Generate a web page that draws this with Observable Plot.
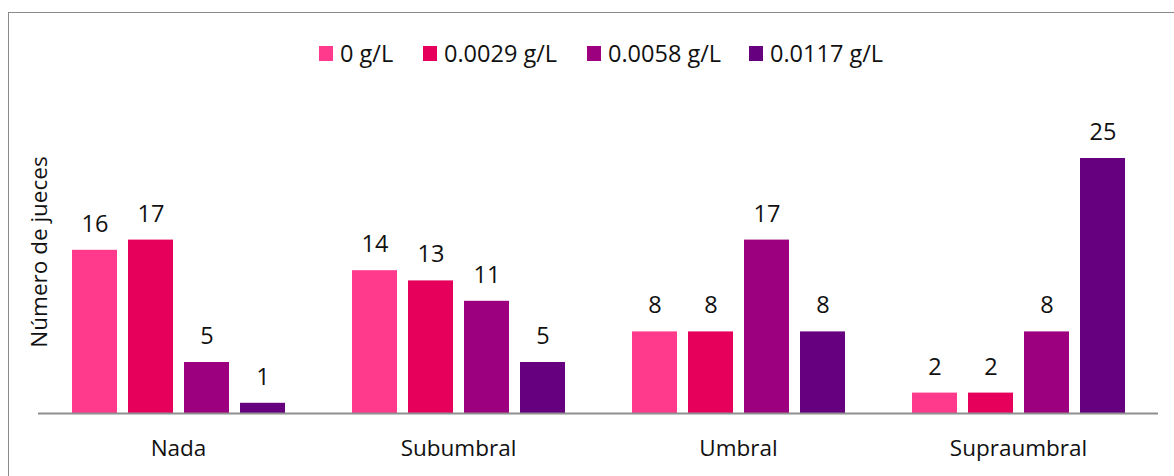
<!DOCTYPE html>
<html>
<head>
<meta charset="utf-8">
<script src="https://cdn.jsdelivr.net/npm/d3@7"></script>
<script src="https://cdn.jsdelivr.net/npm/@observablehq/plot@0.6"></script>
<style>
  body { margin: 0; background: #fff; font-family: "Open Sans", sans-serif; }
  #wrap { position: relative; width: 1174px; height: 476px; overflow: hidden; }
  #frame { position: absolute; left: 8px; top: 12px; width: 1200px; height: 500px; border: 1.5px solid #8a8a8a; box-sizing: border-box; }
  #legend { position: absolute; left: 0; top: 38px; width: 1174px; height: 30px; font-size: 23.5px; line-height: 30px; color: #111; }
  .item { position: absolute; top: 0; display: flex; align-items: center; }
  .sw { width: 14px; height: 15px; margin-right: 7px; }
  #ylab { position: absolute; left: 38px; top: 252px; transform: translate(-50%, -50%) rotate(-90deg); font-size: 22.5px; white-space: nowrap; color: #111; }
  #chart { position: absolute; left: 0; top: 0; }
</style>
</head>
<body>
<div id="wrap">
  <div id="frame"></div>
  <div id="chart"></div>
  <div id="legend"></div>
  <div id="ylab">Número de jueces</div>
</div>
<script>
const categories = ["Nada", "Subumbral", "Umbral", "Supraumbral"];
const series = ["0 g/L", "0.0029 g/L", "0.0058 g/L", "0.0117 g/L"];
const colors = ["#FF3A8C", "#E6005C", "#9C007F", "#66007F"];
const values0 = [16, 14, 8, 2];
const values0029 = [17, 13, 8, 2];
const values0058 = [5, 11, 17, 8];
const values0117 = [1, 5, 8, 25];
const seriesValues = [values0, values0029, values0058, values0117];

const data = [];
categories.forEach((c, i) => {
  series.forEach((s, j) => {
    data.push({cat: c, series: s, value: seriesValues[j][i]});
  });
});

const chart = Plot.plot({
  width: 1174,
  height: 476,
  marginLeft: 38,
  marginRight: 16,
  marginTop: 107,
  marginBottom: 63,
  style: {fontFamily: "Open Sans, sans-serif", fontSize: "22.5px", color: "#111", background: "transparent"},
  fx: {domain: categories, padding: 0, axis: "bottom", tickSize: 0, tickPadding: 27, label: null},
  x: {domain: series, axis: null, paddingInner: 0.2, paddingOuter: 0.6},
  y: {domain: [0, 30], axis: null},
  color: {domain: series, range: colors},
  marks: [
    Plot.barY(data, {fx: "cat", x: "series", y: "value", fill: "series"}),
    Plot.ruleY([0], {stroke: "#8e8e8e", strokeWidth: 2}),
    Plot.text(data, {fx: "cat", x: "series", y: "value", text: d => String(d.value), dy: -26, fill: "#111", fontSize: 23.5})
  ]
});
document.getElementById("chart").appendChild(chart);

const legend = document.getElementById("legend");
const legendX = [319, 423, 587, 749];
series.forEach((s, j) => {
  const it = document.createElement("div");
  it.className = "item";
  it.style.left = legendX[j] + "px";
  const sw = document.createElement("div");
  sw.className = "sw";
  sw.style.background = colors[j];
  const t = document.createElement("span");
  t.textContent = s;
  it.appendChild(sw);
  it.appendChild(t);
  legend.appendChild(it);
});
</script>
</body>
</html>
